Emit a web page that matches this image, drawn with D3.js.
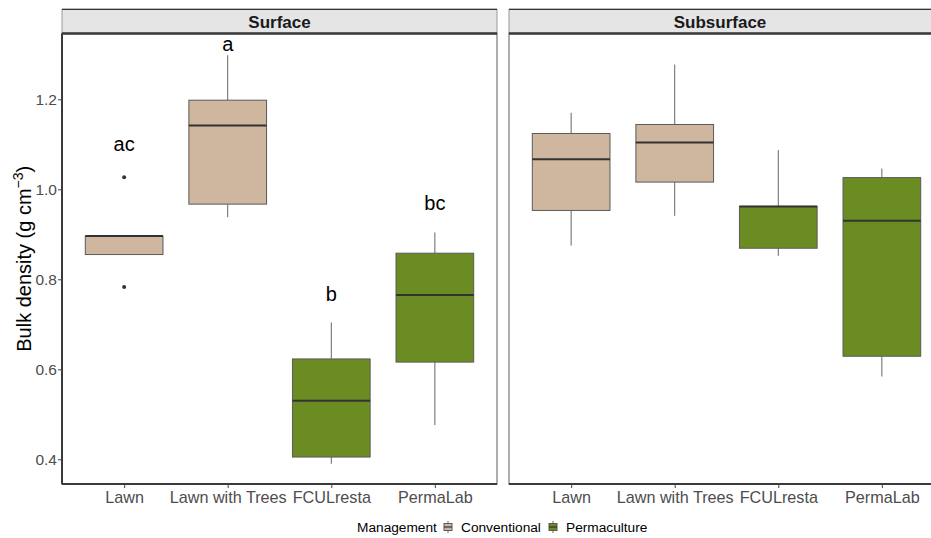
<!DOCTYPE html>
<html>
<head>
<meta charset="utf-8">
<script src="https://cdn.jsdelivr.net/npm/d3@7"></script>
<style>
  html, body { margin: 0; padding: 0; background: #fff; }
  svg { display: block; font-family: "Liberation Sans", Arial, sans-serif; }
</style>
</head>
<body>
<svg id="chart" width="931" height="538"></svg>
<script>
// ---------------- data ----------------
const categories = ["Lawn", "Lawn with Trees", "FCULresta", "PermaLab"];
const management = ["Conventional", "Conventional", "Permaculture", "Permaculture"];
const depths = ["Surface", "Subsurface"];
const managementLevels = ["Conventional", "Permaculture"];

const surfaceMin    = [0.855, 0.938, 0.390, 0.476];
const surfaceQ1     = [0.855, 0.967, 0.405, 0.616];
const surfaceMedian = [0.896, 1.142, 0.530, 0.765];
const surfaceQ3     = [0.896, 1.198, 0.623, 0.858];
const surfaceMax    = [0.896, 1.298, 0.704, 0.904];
const surfaceOutliers = [[1.027, 0.783], [], [], []];
const surfaceLetters  = ["ac", "a", "b", "bc"];
const surfaceLetterY  = [1.102, 1.324, 0.767, 0.970];

const subMin    = [0.875, 0.941, 0.852, 0.584];
const subQ1     = [0.953, 1.016, 0.869, 0.629];
const subMedian = [1.067, 1.104, 0.962, 0.930];
const subQ3     = [1.124, 1.144, 0.962, 1.026];
const subMax    = [1.170, 1.277, 1.087, 1.046];
const subOutliers = [[], [], [], []];

const yTicks = [0.4, 0.6, 0.8, 1.0, 1.2];

// ---------------- build ----------------
function rows(mins, q1, med, q3, maxs, outs) {
  return categories.map((c, i) => ({
    cat: c, mgmt: management[i], min: mins[i], q1: q1[i], med: med[i],
    q3: q3[i], max: maxs[i], outliers: outs[i]
  }));
}
const panels = [
  { name: depths[0], x0: 62, x1: 497, data: rows(surfaceMin, surfaceQ1, surfaceMedian, surfaceQ3, surfaceMax, surfaceOutliers),
    letters: categories.map((c, i) => ({ cat: c, text: surfaceLetters[i], y: surfaceLetterY[i] })) },
  { name: depths[1], x0: 509, x1: 944, data: rows(subMin, subQ1, subMedian, subQ3, subMax, subOutliers), letters: [] }
];

const color = d3.scaleOrdinal().domain(managementLevels).range(["#CFB69E", "#6B8C22"]);

const pTop = 33.5, pBottom = 484, stripTop = 9.3;
const y = d3.scaleLinear().domain([0.3451, 1.3462]).range([pBottom, pTop]);

const svg = d3.select("#chart");

panels.forEach((p, pi) => {
  const x = d3.scalePoint().domain(categories).range([p.x0, p.x1]).padding(0.6);
  const bw = x.step() * 0.75;
  const g = svg.append("g");

  // strip
  g.append("rect").attr("x", p.x0).attr("y", stripTop).attr("width", p.x1 - p.x0).attr("height", pTop - stripTop)
    .attr("fill", "#E5E5E5").attr("stroke", "#9a9a9a").attr("stroke-width", 1);
  g.append("line").attr("x1", p.x0).attr("x2", p.x1).attr("y1", stripTop).attr("y2", stripTop)
    .attr("stroke", "#333").attr("stroke-width", 1.3);
  g.append("text").attr("x", (p.x0 + p.x1) / 2 - (pi === 1 ? 6.5 : 0)).attr("y", (stripTop + pTop) / 2)
    .attr("dy", "0.36em").attr("text-anchor", "middle")
    .attr("font-size", 17).attr("font-weight", "bold").attr("fill", "#1A1A1A").text(p.name);

  // panel border
  g.append("rect").attr("x", p.x0).attr("y", pTop).attr("width", p.x1 - p.x0).attr("height", pBottom - pTop)
    .attr("fill", "none").attr("stroke", "#9a9a9a").attr("stroke-width", 1.6);
  // strip bottom line
  g.append("line").attr("x1", p.x0).attr("x2", p.x1).attr("y1", pTop).attr("y2", pTop)
    .attr("stroke", "#3a3a3a").attr("stroke-width", 2.4);
  // bottom axis line
  g.append("line").attr("x1", p.x0).attr("x2", p.x1).attr("y1", pBottom).attr("y2", pBottom)
    .attr("stroke", "#3a3a3a").attr("stroke-width", 2);
  if (pi === 0) {
    g.append("line").attr("x1", p.x0).attr("x2", p.x0).attr("y1", pTop).attr("y2", pBottom)
      .attr("stroke", "#3a3a3a").attr("stroke-width", 2);
  }

  // x axis
  const xa = g.append("g").attr("transform", `translate(0,${pBottom})`)
    .call(d3.axisBottom(x).tickSize(4).tickPadding(3));
  xa.select(".domain").remove();
  xa.selectAll(".tick line").attr("stroke", "#444").attr("stroke-width", 1);
  xa.selectAll(".tick text").attr("font-size", 16.2).attr("fill", "#4D4D4D")
    .attr("font-family", "'Liberation Sans', Arial, sans-serif");

  // y axis (left panel only)
  if (pi === 0) {
    const ya = g.append("g").attr("transform", `translate(${p.x0},0)`)
      .call(d3.axisLeft(y).tickValues(yTicks).tickFormat(d3.format(".1f")).tickSize(4).tickPadding(1));
    ya.select(".domain").remove();
    ya.selectAll(".tick line").attr("stroke", "#444");
    ya.selectAll(".tick text").attr("font-size", 15.5).attr("fill", "#4D4D4D")
      .attr("font-family", "'Liberation Sans', Arial, sans-serif");
  }

  // boxes
  const bx = g.selectAll(".box").data(p.data).enter().append("g");
  bx.append("line").attr("x1", d => x(d.cat)).attr("x2", d => x(d.cat))
    .attr("y1", d => y(d.max)).attr("y2", d => y(d.q3)).attr("stroke", "#666").attr("stroke-width", 1);
  bx.append("line").attr("x1", d => x(d.cat)).attr("x2", d => x(d.cat))
    .attr("y1", d => y(d.q1)).attr("y2", d => y(d.min)).attr("stroke", "#666").attr("stroke-width", 1);
  bx.append("rect").attr("x", d => x(d.cat) - bw / 2).attr("width", bw)
    .attr("y", d => y(d.q3)).attr("height", d => y(d.q1) - y(d.q3))
    .attr("fill", d => color(d.mgmt)).attr("stroke", "#5a5a5a").attr("stroke-width", 1);
  bx.append("line").attr("x1", d => x(d.cat) - bw / 2).attr("x2", d => x(d.cat) + bw / 2)
    .attr("y1", d => y(d.med)).attr("y2", d => y(d.med)).attr("stroke", "#333").attr("stroke-width", 2);
  bx.each(function(d) {
    d3.select(this).selectAll("circle").data(d.outliers).enter().append("circle")
      .attr("cx", x(d.cat)).attr("cy", v => y(v)).attr("r", 2).attr("fill", "#333");
  });

  // letters
  g.selectAll(".lab").data(p.letters).enter().append("text")
    .attr("x", d => x(d.cat)).attr("y", d => y(d.y)).attr("dy", "0.36em")
    .attr("text-anchor", "middle").attr("font-size", 20).attr("fill", "#000").text(d => d.text);
});

// y axis title
svg.append("text")
  .attr("transform", `translate(31,${(pTop + pBottom) / 2}) rotate(-90)`)
  .attr("text-anchor", "middle").attr("font-size", 20).attr("fill", "#000")
  .call(t => {
    t.append("tspan").text("Bulk density (g cm");
    t.append("tspan").attr("font-size", 14).attr("dy", -8).text("\u22123");
    t.append("tspan").attr("dy", 8).text(")");
  });

// legend
const lg = svg.append("g");
const ly = 527;
lg.append("text").attr("x", 357).attr("y", ly).attr("dy", "0.36em").attr("font-size", 13.7).attr("fill", "#000").text("Management");
const keyX = [444, 549];
const labX = [461, 566];
managementLevels.forEach((m, i) => {
  const kx = keyX[i];
  lg.append("line").attr("x1", kx + 4).attr("x2", kx + 4).attr("y1", ly - 6).attr("y2", ly + 6).attr("stroke", "#666");
  lg.append("rect").attr("x", kx).attr("y", ly - 3.5).attr("width", 8).attr("height", 7)
    .attr("fill", color(m)).attr("stroke", "#5a5a5a").attr("stroke-width", 1);
  lg.append("line").attr("x1", kx).attr("x2", kx + 8).attr("y1", ly).attr("y2", ly).attr("stroke", "#333").attr("stroke-width", 1.2);
  lg.append("text").attr("x", labX[i]).attr("y", ly).attr("dy", "0.36em").attr("font-size", 13.7).attr("fill", "#000").text(m);
});
</script>
</body>
</html>
